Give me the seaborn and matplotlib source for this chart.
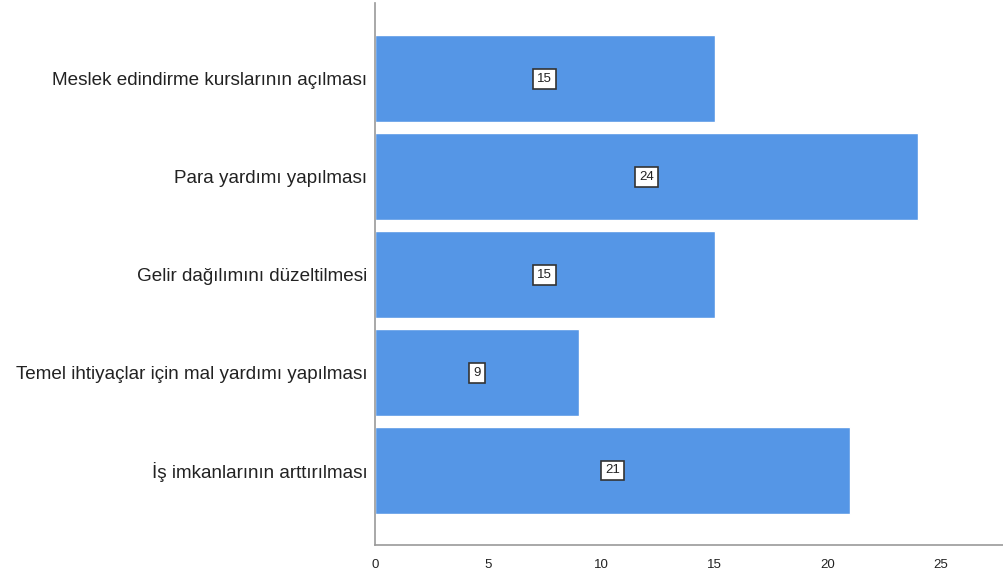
import matplotlib
matplotlib.use("Agg")
import matplotlib.pyplot as plt
import seaborn as sns
import pandas as pd

categories = [
    "Meslek edindirme kurslarının açılması",
    "Para yardımı yapılması",
    "Gelir dağılımını düzeltilmesi",
    "Temel ihtiyaçlar için mal yardımı yapılması",
    "İş imkanlarının arttırılması",
]
counts = [15, 24, 15, 9, 21]
xticks = [0, 5, 10, 15, 20, 25]

df = pd.DataFrame({"kategori": categories, "sayi": counts})

sns.set_style("white")
plt.rcParams["font.family"] = ["Liberation Sans", "DejaVu Sans"]

fig = plt.figure(figsize=(10.04, 5.76), dpi=100)
ax = fig.add_axes([0.3735, 0.054, 0.6265, 0.941])

sns.barplot(data=df, x="sayi", y="kategori", color="#5596E6", saturation=1,
            width=0.89, ax=ax)

for i, v in enumerate(counts):
    ax.text(v / 2, i, str(v), ha="center", va="center", fontsize=9.5, color="#222222",
            bbox=dict(boxstyle="square,pad=0.3", fc="white", ec="#333333", lw=1.2))

ax.set_xlim(0, 27.78)
ax.set_ylim(4.76, -0.776)
ax.set_xticks(xticks)
ax.set_xlabel("")
ax.set_ylabel("")
ax.tick_params(axis="x", labelsize=9.5, length=0, pad=10, colors="#222222")
ax.tick_params(axis="y", labelsize=13.6, length=0, pad=5.5, colors="#222222")
for s in ["top", "right"]:
    ax.spines[s].set_visible(False)
for s in ["left", "bottom"]:
    ax.spines[s].set_color("#999999")
    ax.spines[s].set_linewidth(1.2)

fig.savefig("out.png", dpi=100)
